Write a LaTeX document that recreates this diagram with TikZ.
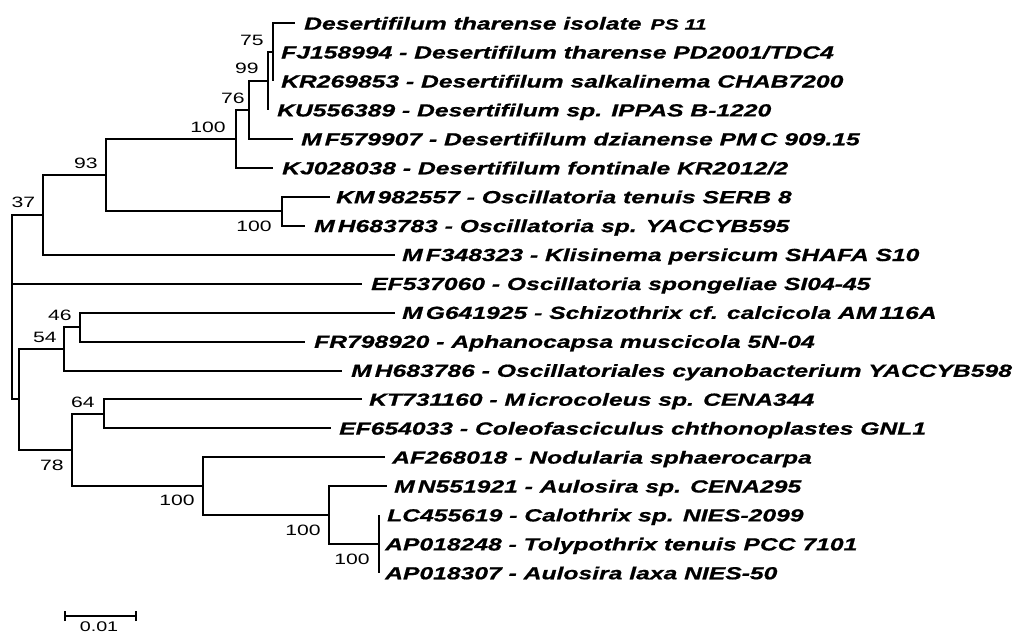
\documentclass[tikz,border=0pt]{standalone}
\usepackage{fontspec}
\newfontfamily\labfont{Liberation Sans}[FakeStretch=1.41, BoldItalicFeatures={FakeBold=0.8}]
\newcommand\Mg{M\kern3pt}
\begin{document}
\begin{tikzpicture}[x=1pt,y=-1pt,
  br/.style={draw=black, line width=2pt, line join=miter},
  leaf/.style={anchor=base west, inner sep=0pt, font=\labfont\fontsize{17.5}{20}\selectfont\bfseries\itshape},
  boot/.style={inner sep=0pt, font=\labfont\fontsize{15}{17}\selectfont}]
\fill[white] (0,0) rectangle (1018,635);
\useasboundingbox (0,0) rectangle (1018,635);
% leaf tips
\coordinate (t1) at (295,23.3);
\coordinate (t2) at (273,52.2);
\coordinate (t3) at (273,81.2);
\coordinate (t4) at (268,110.1);
\coordinate (t5) at (293,139.0);
\coordinate (t6) at (273,168.0);
\coordinate (t7) at (330,196.9);
\coordinate (t8) at (305,225.8);
\coordinate (t9) at (395,254.7);
\coordinate (t10) at (362,283.7);
\coordinate (t11) at (395,312.6);
\coordinate (t12) at (305,341.5);
\coordinate (t13) at (342,370.5);
\coordinate (t14) at (362,399.4);
\coordinate (t15) at (331,428.3);
\coordinate (t16) at (385,457.3);
\coordinate (t17) at (387,486.2);
\coordinate (t18) at (379,515.1);
\coordinate (t19) at (379,544.1);
\coordinate (t20) at (379,573.0);
% internal nodes
\coordinate (n75) at (273,52.2);
\coordinate (n99) at (268,81.2);
\coordinate (n76) at (249,110.1);
\coordinate (nA) at (236,139.0);
\coordinate (nB) at (282,211.4);
\coordinate (n93) at (106,175.2);
\coordinate (n37) at (43,215.0);
\coordinate (root) at (12,283.7);
\coordinate (n46) at (80,327.0);
\coordinate (n54) at (64,348.8);
\coordinate (nX) at (19,399.4);
\coordinate (n64) at (104,413.9);
\coordinate (n78) at (72,450.0);
\coordinate (nC) at (203,486.2);
\coordinate (nD) at (329,515.1);
\coordinate (nE) at (379,544.1);
% branches
\draw[br] (n75) |- (t1);
\draw[br] (n75) |- (t2);
\draw[br] (n75) |- (t3);
\draw[br] (n99) |- (n75);
\draw[br] (n99) |- (t4);
\draw[br] (n76) |- (n99);
\draw[br] (n76) |- (t5);
\draw[br] (nA) |- (n76);
\draw[br] (nA) |- (t6);
\draw[br] (nB) |- (t7);
\draw[br] (nB) |- (t8);
\draw[br] (n93) |- (nA);
\draw[br] (n93) |- (nB);
\draw[br] (n37) |- (n93);
\draw[br] (n37) |- (t9);
\draw[br] (root) |- (n37);
\draw[br] (root) |- (t10);
\draw[br] (root) |- (nX);
\draw[br] (nX) |- (n54);
\draw[br] (nX) |- (n78);
\draw[br] (n54) |- (n46);
\draw[br] (n54) |- (t13);
\draw[br] (n46) |- (t11);
\draw[br] (n46) |- (t12);
\draw[br] (n78) |- (n64);
\draw[br] (n78) |- (nC);
\draw[br] (n64) |- (t14);
\draw[br] (n64) |- (t15);
\draw[br] (nC) |- (t16);
\draw[br] (nC) |- (nD);
\draw[br] (nD) |- (t17);
\draw[br] (nD) |- (nE);
\draw[br] (nE) |- (t18);
\draw[br] (nE) |- (t19);
\draw[br] (nE) |- (t20);
% leaf labels
\node[leaf] (L1) at (304,29.6) {Desertifilum tharense isolate\hspace{9pt}{\fontsize{15}{17}\selectfont PS 11}};
\node[leaf] (L2) at (281,58.5) {FJ158994 - Desertifilum tharense PD2001/TDC4};
\node[leaf] (L3) at (281,87.5) {KR269853 - Desertifilum salkalinema CHAB7200};
\node[leaf] (L4) at (277,116.4) {KU556389 - Desertifilum sp. IPPAS B-1220};
\node[leaf] (L5) at (301,145.3) {\Mg F579907 - Desertifilum dzianense P\Mg C 909.15};
\node[leaf] (L6) at (282,174.3) {KJ028038 - Desertifilum fontinale KR2012/2};
\node[leaf] (L7) at (336,203.2) {K\Mg 982557 - Oscillatoria tenuis SERB 8};
\node[leaf] (L8) at (314,232.1) {\Mg H683783 - Oscillatoria sp. YACCYB595};
\node[leaf] (L9) at (402,261.0) {\Mg F348323 - Klisinema persicum SHAFA S10};
\node[leaf] (L10) at (371,290.0) {EF537060 - Oscillatoria spongeliae SI04-45};
\node[leaf] (L11) at (402,318.9) {\Mg G641925 - Schizothrix cf. calcicola A\Mg 116A};
\node[leaf] (L12) at (314,347.8) {FR798920 - Aphanocapsa muscicola 5N-04};
\node[leaf] (L13) at (351,376.8) {\Mg H683786 - Oscillatoriales cyanobacterium YACCYB598};
\node[leaf] (L14) at (369,405.7) {KT731160 - \Mg icrocoleus sp. CENA344};
\node[leaf] (L15) at (339,434.6) {EF654033 - Coleofasciculus chthonoplastes GNL1};
\node[leaf] (L16) at (392,463.6) {AF268018 - Nodularia sphaerocarpa};
\node[leaf] (L17) at (394,492.5) {\Mg N551921 - Aulosira sp. CENA295};
\node[leaf] (L18) at (387,521.4) {LC455619 - Calothrix sp. NIES-2099};
\node[leaf] (L19) at (385,550.4) {AP018248 - Tolypothrix tenuis PCC 7101};
\node[leaf] (L20) at (385,579.3) {AP018307 - Aulosira laxa NIES-50};
% bootstrap values
\node[boot] (b75) at (252,40) {75};
\node[boot] (b99) at (247,68) {99};
\node[boot] (b76) at (233,98) {76};
\node[boot] (bA) at (208,127) {100};
\node[boot] (b93) at (86,163) {93};
\node[boot] (b37) at (23.5,202) {37};
\node[boot] (bB) at (254,226) {100};
\node[boot] (b46) at (60,315) {46};
\node[boot] (b54) at (45,337) {54};
\node[boot] (b64) at (83,402) {64};
\node[boot] (b78) at (52,465) {78};
\node[boot] (bC) at (177,500) {100};
\node[boot] (bD) at (303,530) {100};
\node[boot] (bE) at (352,559) {100};
% scale bar
\coordinate (s1) at (65,616);
\coordinate (s2) at (136,616);
\draw[line width=1.6pt] (s1) -- (s2);
\draw[line width=1.6pt] ([yshift=-5pt]s1) -- ([yshift=5pt]s1);
\draw[line width=1.6pt] ([yshift=-5pt]s2) -- ([yshift=5pt]s2);
\node[inner sep=0pt, font=\labfont\fontsize{14}{16}\selectfont] (sl) at (99,627) {0.01};
\end{tikzpicture}
\end{document}
